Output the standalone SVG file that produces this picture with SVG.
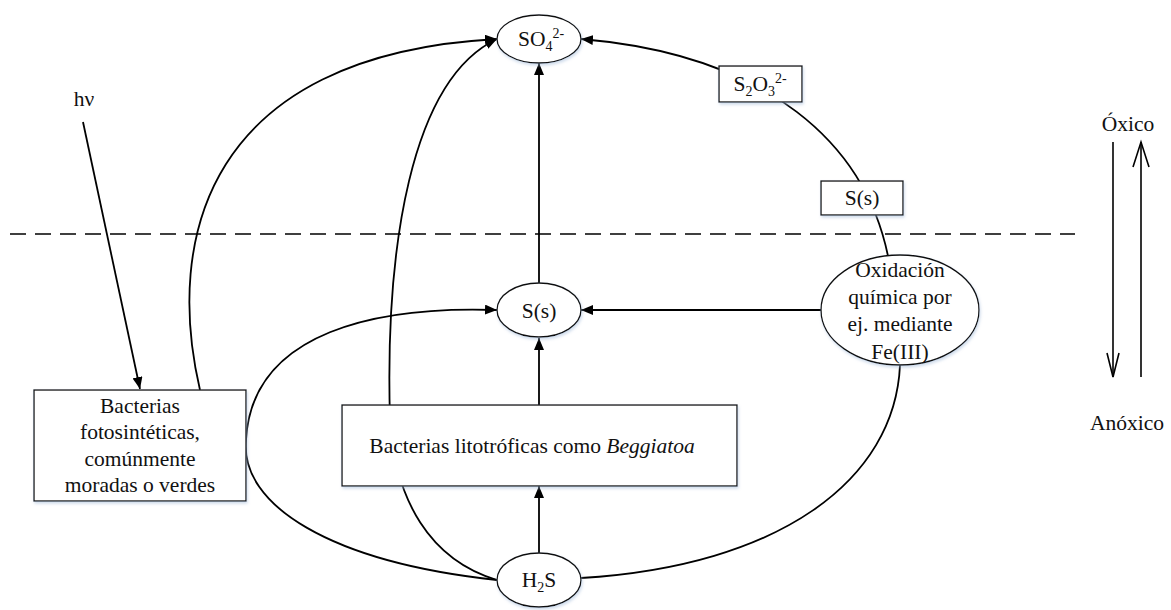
<svg xmlns="http://www.w3.org/2000/svg" width="1171" height="610" viewBox="0 0 1171 610">
<style>
text{font-family:"Liberation Serif","Times New Roman",serif;font-size:21.5px;fill:#111;text-anchor:middle}
.node{fill:#fff;stroke:#111;stroke-width:1.3}
.edge{fill:none;stroke:#000;stroke-width:1.8}
.thin{fill:none;stroke:#000;stroke-width:1.6}
.sub{font-size:14px}
</style>
<defs>
<marker id="ah" viewBox="0 0 12 10" refX="12" refY="5" markerWidth="12" markerHeight="10" markerUnits="userSpaceOnUse" orient="auto">
<path d="M0,0 L12,5 L0,10 Z" fill="#000"/>
</marker>
<filter id="sh" x="-20%" y="-20%" width="140%" height="140%">
<feGaussianBlur in="SourceAlpha" stdDeviation="1.5"/>
<feOffset dx="1" dy="2" result="b"/>
<feFlood flood-color="#9fb8d8" flood-opacity="0.5"/>
<feComposite in2="b" operator="in"/>
<feMerge><feMergeNode/><feMergeNode in="SourceGraphic"/></feMerge>
</filter>
</defs>
<line x1="10" y1="234" x2="1075" y2="234" stroke="#000" stroke-width="1.5" stroke-dasharray="16,9"/>
<g id="connectors">
<path class="edge" d="M200,390 C165,240 205,55 497,39" marker-end="url(#ah)"/>
<path class="edge" d="M497,580 C430,560 395,500 390,420 C385,250 410,80 497,39" marker-end="url(#ah)"/>
<path class="edge" d="M497,580 C330,562 240,505 246,440 C252,330 380,306 497,310" marker-end="url(#ah)"/>
<path class="edge" d="M581,578 C780,566 895,480 900,365"/>
<path class="edge" d="M888,256 C865,145 770,55 581,39" marker-end="url(#ah)"/>
<line class="edge" x1="539" y1="283" x2="539" y2="63" marker-end="url(#ah)"/>
<line class="edge" x1="539" y1="405" x2="539" y2="338" marker-end="url(#ah)"/>
<line class="edge" x1="539" y1="553" x2="539" y2="486" marker-end="url(#ah)"/>
<line class="edge" x1="821" y1="310" x2="581" y2="310" marker-end="url(#ah)"/>
<line class="edge" x1="83" y1="122" x2="140" y2="389" marker-end="url(#ah)"/>
</g>
<g id="n-so4">
<ellipse class="node" cx="539" cy="39" rx="42" ry="24" filter="url(#sh)"/>
<text x="541" y="46">SO<tspan class="sub" dy="5">4</tspan><tspan class="sub" dy="-13">2-</tspan></text>
</g>
<g id="n-ss">
<ellipse class="node" cx="539" cy="310" rx="42" ry="27" filter="url(#sh)"/>
<text x="539" y="318">S(s)</text>
</g>
<g id="n-h2s">
<ellipse class="node" cx="539" cy="580" rx="42" ry="27" filter="url(#sh)"/>
<text x="539" y="587">H<tspan class="sub" dy="5">2</tspan><tspan dy="-5">S</tspan></text>
</g>
<g id="n-beggiatoa">
<rect class="node" x="342" y="405" width="395" height="81" filter="url(#sh)"/>
<text x="532" y="453">Bacterias litotróficas como <tspan font-style="italic">Beggiatoa</tspan></text>
</g>
<g id="n-foto">
<rect class="node" x="34" y="390" width="212" height="111" filter="url(#sh)"/>
<text x="140" y="413">Bacterias</text>
<text x="140" y="439">fotosintéticas,</text>
<text x="140" y="466">comúnmente</text>
<text x="140" y="492">moradas o verdes</text>
</g>
<g id="n-oxid">
<ellipse class="node" cx="900" cy="310" rx="79" ry="55" filter="url(#sh)"/>
<text x="900" y="277">Oxidación</text>
<text x="900" y="304">química por</text>
<text x="900" y="331">ej. mediante</text>
<text x="900" y="359">Fe(III)</text>
</g>
<g id="n-s2o3">
<rect class="node" x="719" y="66" width="83" height="36" filter="url(#sh)"/>
<text x="760" y="91">S<tspan class="sub" dy="5">2</tspan><tspan dy="-5">O</tspan><tspan class="sub" dy="5">3</tspan><tspan class="sub" dy="-13">2-</tspan></text>
</g>
<g id="n-ss2">
<rect class="node" x="821" y="181" width="82" height="34" filter="url(#sh)"/>
<text x="862" y="205">S(s)</text>
</g>
<g id="n-hv">
<text x="84" y="106">hν</text>
</g>
<g id="n-legend">
<text x="1128" y="131">Óxico</text>
<text x="1127" y="430">Anóxico</text>
<line class="thin" x1="1113" y1="142" x2="1113" y2="377"/>
<polyline class="thin" points="1107,353 1113,377 1119,353"/>
<line class="thin" x1="1141" y1="377" x2="1141" y2="142"/>
<polyline class="thin" points="1133,167 1141,142 1149,167"/>
</g>
</svg>
